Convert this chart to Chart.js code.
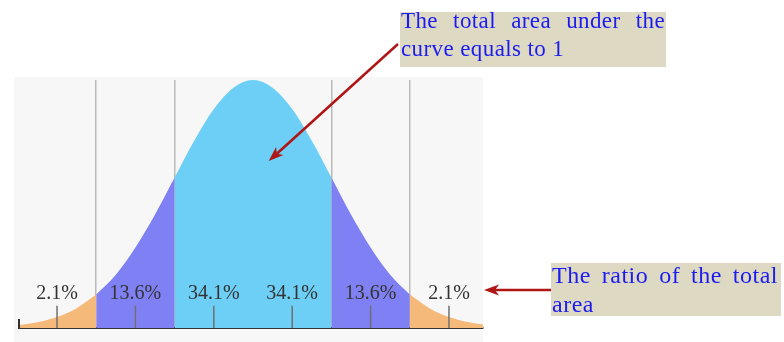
<!DOCTYPE html>
<html>
<head>
<meta charset="utf-8">
<script src="https://cdn.jsdelivr.net/npm/chart.js@4.4.1/dist/chart.umd.min.js"></script>
<style>
  html, body { margin: 0; padding: 0; background: #fff; }
  #wrap { position: relative; width: 784px; height: 342px; overflow: hidden; }
  #myChart { position: absolute; left: 0; top: 0; }
  .box { position: absolute; background: #ddd9c3; }
  .note { position: absolute; font-family: "Liberation Serif", serif; color: #1c1cf0; line-height: 1; white-space: nowrap; }
  .just { text-align: justify; text-align-last: justify; }
</style>
</head>
<body>
<div id="wrap">
  <canvas id="myChart" width="784" height="342"></canvas>
  <div class="box" style="left:400px; top:12px; width:266px; height:55px;"></div>
  <div class="note just" style="left:401px; top:9px; width:264px; font-size:23px; letter-spacing:0.4px;">The total area under the</div>
  <div class="note" style="left:401px; top:37px; font-size:23px; letter-spacing:0.4px;">curve equals to 1</div>
  <div class="box" style="left:551px; top:263px; width:230px; height:53px;"></div>
  <div class="note just" style="left:552px; top:263px; width:226px; font-size:24px; letter-spacing:0.5px;">The ratio of the total</div>
  <div class="note" style="left:552px; top:292px; font-size:24px; letter-spacing:0.5px;">area</div>
</div>
<script>
// curve (x in standard deviations, height relative to the peak)
var sigma   = [-3, -2.75, -2.5, -2.25, -2, -1.75, -1.5, -1.25, -1, -0.75, -0.5, -0.25, 0,
               0.25, 0.5, 0.75, 1, 1.25, 1.5, 1.75, 2, 2.25, 2.5, 2.75, 3];
var density = [0.011, 0.023, 0.044, 0.08, 0.135, 0.215, 0.325, 0.458, 0.607, 0.755, 0.883, 0.969, 1.0,
               0.969, 0.883, 0.755, 0.607, 0.458, 0.325, 0.215, 0.135, 0.08, 0.044, 0.023, 0.011];

var bandFrom   = [-3, -2, -1, 1, 2];
var bandTo     = [-2, -1, 1, 2, 3];
var bandColors = ['#f5b97a', '#8080f5', '#6dcff5', '#8080f5', '#f5b97a'];

var gridAt       = [-2, -1, 0, 1, 2];
var percentAt    = [-2.5, -1.5, -0.5, 0.5, 1.5, 2.5];
var percentLabel = ['2.1%', '13.6%', '34.1%', '34.1%', '13.6%', '2.1%'];

function bandData(a, b) {
    var pts = [];
    for (var i = 0; i < sigma.length; i++) {
        if (sigma[i] >= a && sigma[i] <= b) pts.push({x: sigma[i], y: density[i]});
    }
    return pts;
}

var datasets = bandFrom.map(function(a, i) {
    return {
        data: bandData(a, bandTo[i]),
        cubicInterpolationMode: 'monotone',
        fill: 'origin',
        backgroundColor: bandColors[i],
        borderWidth: 0,
        pointRadius: 0
    };
});

function arrow(ctx, x1, y1, x2, y2) {
    var ang = Math.atan2(y2 - y1, x2 - x1);
    var len = 15, half = 5.5;
    ctx.save();
    ctx.strokeStyle = '#b01515';
    ctx.fillStyle = '#b01515';
    ctx.lineWidth = 2.5;
    ctx.beginPath();
    ctx.moveTo(x1, y1);
    ctx.lineTo(x2 - Math.cos(ang) * (len - 4), y2 - Math.sin(ang) * (len - 4));
    ctx.stroke();
    ctx.translate(x2, y2);
    ctx.rotate(ang);
    ctx.beginPath();
    ctx.moveTo(0, 0);
    ctx.lineTo(-len, -half);
    ctx.lineTo(-len + 4, 0);
    ctx.lineTo(-len, half);
    ctx.closePath();
    ctx.fill();
    ctx.restore();
}

var decor = {
    id: 'decor',
    beforeDraw: function(chart) {
        var ctx = chart.ctx;
        ctx.save();
        ctx.fillStyle = '#f7f7f7';
        ctx.fillRect(14, 77, chart.chartArea.right - 14, 342 - 77);
        ctx.restore();
    },
    afterDraw: function(chart) {
        var ctx = chart.ctx;
        var xs = chart.scales.x, ys = chart.scales.y;
        var base = ys.getPixelForValue(0);
        ctx.save();
        // small ticks between the sigma lines
        ctx.strokeStyle = '#707070';
        ctx.lineWidth = 1.5;
        percentAt.forEach(function(v) {
            var px = xs.getPixelForValue(v);
            ctx.beginPath();
            ctx.moveTo(px, ys.getPixelForValue(0.09));
            ctx.lineTo(px, base);
            ctx.stroke();
        });
        // left end of the axis
        ctx.strokeStyle = '#333';
        ctx.lineWidth = 2;
        ctx.beginPath();
        ctx.moveTo(chart.chartArea.left, base - 9);
        ctx.lineTo(chart.chartArea.left, base);
        ctx.stroke();
        // percentages
        ctx.fillStyle = '#333';
        ctx.font = '20px "Liberation Serif", serif';
        ctx.textAlign = 'center';
        ctx.textBaseline = 'alphabetic';
        percentAt.forEach(function(v, i) {
            ctx.fillText(percentLabel[i], xs.getPixelForValue(v), 299);
        });
        ctx.restore();
        arrow(ctx, 398, 44, xs.getPixelForValue(0.2), ys.getPixelForValue(0.673));
        arrow(ctx, 551, 290, chart.chartArea.right + 1, 290);
    }
};

var ctx = document.getElementById('myChart').getContext('2d');
var myChart = new Chart(ctx, {
    type: 'line',
    data: { datasets: datasets },
    options: {
        responsive: false,
        animation: false,
        layout: { padding: { left: 19, right: 301, top: 80, bottom: 14 } },
        plugins: { legend: { display: false }, tooltip: { enabled: false } },
        scales: {
            x: {
                type: 'linear',
                min: -2.985,
                max: 2.934,
                z: 1,
                afterBuildTicks: function(scale) {
                    scale.ticks = gridAt.map(function(v) { return {value: v}; });
                },
                ticks: { display: false },
                grid: { color: 'rgba(165,165,165,0.75)', lineWidth: 1.5, drawTicks: false },
                border: { color: '#333', width: 2 }
            },
            y: {
                display: false,
                min: 0,
                max: 1
            }
        }
    },
    plugins: [decor]
});
</script>
</body>
</html>
